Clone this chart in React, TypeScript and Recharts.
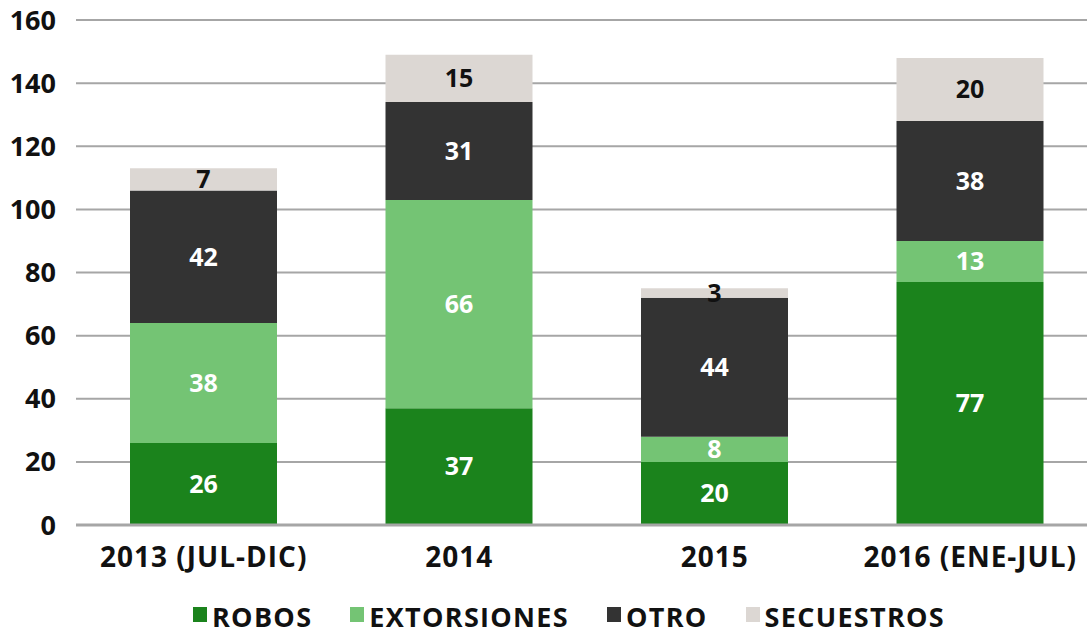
import { BarChart, Bar, XAxis, YAxis, CartesianGrid, Legend, LabelList } from 'recharts'

const categories = ['2013 (JUL-DIC)', '2014', '2015', '2016 (ENE-JUL)']
const robos = [26, 37, 20, 77]
const extorsiones = [38, 66, 8, 13]
const otro = [42, 31, 44, 38]
const secuestros = [7, 15, 3, 20]
const yTicks = [0, 20, 40, 60, 80, 100, 120, 140, 160]

const series = [
  { key: 'robos', name: 'ROBOS', color: '#1b831c', text: '#ffffff' },
  { key: 'extorsiones', name: 'EXTORSIONES', color: '#74c474', text: '#ffffff' },
  { key: 'otro', name: 'OTRO', color: '#333333', text: '#ffffff' },
  { key: 'secuestros', name: 'SECUESTROS', color: '#dcd7d3', text: '#111111' },
]

const data = categories.map((c, i) => ({
  name: c,
  robos: robos[i],
  extorsiones: extorsiones[i],
  otro: otro[i],
  secuestros: secuestros[i],
}))

const FONT = '"Open Sans", "DejaVu Sans", sans-serif'

function LegendBox() {
  return (
    <div style={{ display: 'flex', justifyContent: 'center', gap: 38, fontFamily: FONT, fontWeight: 700, fontSize: 27, lineHeight: '27px', letterSpacing: 1.3, color: '#111', paddingLeft: 40, marginTop: 18 }}>
      {series.map((s) => (
        <div key={s.key} style={{ display: 'flex', alignItems: 'center' }}>
          <span style={{ display: 'inline-block', width: 14, height: 15, background: s.color, marginRight: 5, marginTop: -4 }} />
          <span>{s.name}</span>
        </div>
      ))}
    </div>
  )
}

export default function App() {
  return (
    <div style={{ position: 'absolute', left: 0, top: 0, width: 1087, height: 635, overflow: 'hidden', background: '#fff' }}>
      <BarChart width={1098} height={635} data={data} margin={{ top: 20, right: 0, bottom: 0, left: 0 }}>
        <CartesianGrid vertical={false} stroke="#a6a6a6" strokeWidth={2} />
        <XAxis
          dataKey="name"
          axisLine={{ stroke: '#a6a6a6', strokeWidth: 3 }}
          tickLine={false}
          tickMargin={16}
          height={60}
          tick={{ fill: '#111', fontSize: 28, fontWeight: 700, fontFamily: FONT, letterSpacing: 1 }}
        />
        <YAxis
          width={76}
          domain={[0, 160]}
          ticks={yTicks}
          axisLine={false}
          tickLine={false}
          tickMargin={14}
          tick={{ fill: '#111', fontSize: 27, fontWeight: 700, fontFamily: FONT }}
        />
        <Legend verticalAlign="bottom" height={50} content={() => <LegendBox />} />
        {series.map((s) => (
          <Bar key={s.key} dataKey={s.key} name={s.name} stackId="a" fill={s.color} barSize={147} isAnimationActive={false}>
            <LabelList dataKey={s.key} position="center" fill={s.text} fontSize={25} fontWeight={700} fontFamily={FONT} />
          </Bar>
        ))}
      </BarChart>
    </div>
  )
}
